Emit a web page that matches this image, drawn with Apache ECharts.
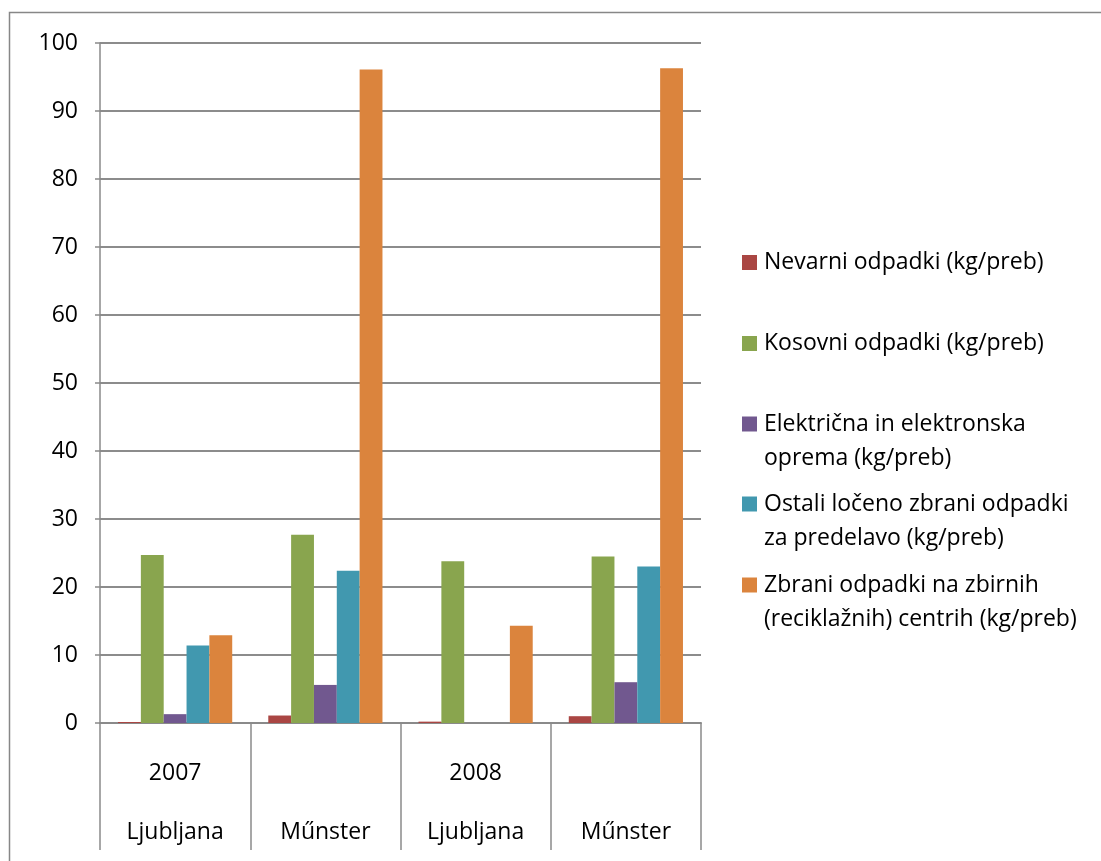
<!DOCTYPE html>
<html>
<head>
<meta charset="utf-8">
<script src="https://cdn.jsdelivr.net/npm/echarts@6/dist/echarts.min.js"></script>
<style>
html,body{margin:0;padding:0;background:#fff;}
#chart{width:1101px;height:861px;}
</style>
</head>
<body>
<div id="chart"></div>
<script>
const years = ['2007', '', '2008', ''];
const cities = ['Ljubljana', 'Műnster', 'Ljubljana', 'Műnster'];
const yTicks = [0, 10, 20, 30, 40, 50, 60, 70, 80, 90, 100];

const seriesNames = [
  'Nevarni odpadki (kg/preb)',
  'Kosovni odpadki (kg/preb)',
  'Električna in elektronska\noprema (kg/preb)',
  'Ostali ločeno zbrani odpadki\nza predelavo (kg/preb)',
  'Zbrani odpadki na zbirnih\n(reciklažnih) centrih (kg/preb)'
];
const nevarni = [0.15, 1.1, 0.2, 1.0];
const kosovni = [24.7, 27.7, 23.8, 24.5];
const elektricna = [1.3, 5.6, 0, 6.0];
const ostali = [11.4, 22.4, 0, 23.0];
const zbirni = [12.9, 96.1, 14.3, 96.3];

const values = [nevarni, kosovni, elektricna, ostali, zbirni];
const colors = ['#AA4643', '#89A54E', '#71588F', '#4198AF', '#DB843D'];

const FONT = 'Open Sans';
const legendTops = [245.5, 326.5, 373, 453, 534];

const chart = echarts.init(document.getElementById('chart'), null, {renderer: 'canvas'});

const legends = seriesNames.map((name, i) => {
  const multi = name.indexOf('\n') >= 0;
  return {
    orient: 'vertical',
    left: 742,
    top: legendTops[i],
    padding: 0,
    itemWidth: 15,
    itemHeight: 15,
    selectedMode: false,
    icon: 'rect',
    data: [name],
    formatter: function (n) { return multi ? '\u00a0\n' + n : n; },
    textStyle: {
      fontFamily: FONT,
      fontSize: 23,
      color: '#000',
      lineHeight: 34,
      padding: [0, 0, 0, 2]
    }
  };
});

chart.setOption({
  animation: false,
  color: colors,
  graphic: [{
    type: 'rect',
    shape: {x: 9.5, y: 12.5, width: 1200, height: 1000},
    style: {fill: 'none', stroke: '#878787', lineWidth: 1.5},
    silent: true
  }],
  legend: legends,
  grid: {left: 100, right: 400, top: 43, bottom: 138, containLabel: false},
  xAxis: {
    type: 'category',
    data: cities.map((c, i) => i),
    boundaryGap: true,
    axisLine: {lineStyle: {color: '#8a8a8a', width: 2}},
    axisTick: {show: true, interval: 0, length: 127, lineStyle: {color: '#8a8a8a', width: 1.5}},
    axisLabel: {
      interval: 0,
      margin: 21,
      formatter: function (v, idx) {
        const y = years[idx] || '\u00a0';
        return '{y|' + y + '}\n{c|' + cities[idx] + '}';
      },
      rich: {
        y: {fontFamily: FONT, fontSize: 23, color: '#000', lineHeight: 59},
        c: {fontFamily: FONT, fontSize: 23, color: '#000', lineHeight: 59}
      }
    },
    splitLine: {show: false}
  },
  yAxis: {
    type: 'value',
    min: 0,
    max: 100,
    interval: 10,
    axisLine: {show: true, lineStyle: {color: '#8a8a8a', width: 1.5}},
    axisTick: {show: true, length: 5, lineStyle: {color: '#8a8a8a', width: 1.5}},
    axisLabel: {
      margin: 22,
      fontFamily: FONT,
      fontSize: 23,
      color: '#000',
      formatter: function (v) { return yTicks.indexOf(v) >= 0 ? String(v) : ''; }
    },
    splitLine: {show: true, lineStyle: {color: '#8c8c8c', width: 2}}
  },
  series: seriesNames.map((name, i) => ({
    name: name,
    type: 'bar',
    data: values[i],
    barGap: '0%',
    barCategoryGap: '24%',
    itemStyle: {color: colors[i]},
    emphasis: {disabled: true}
  }))
});
</script>
</body>
</html>
